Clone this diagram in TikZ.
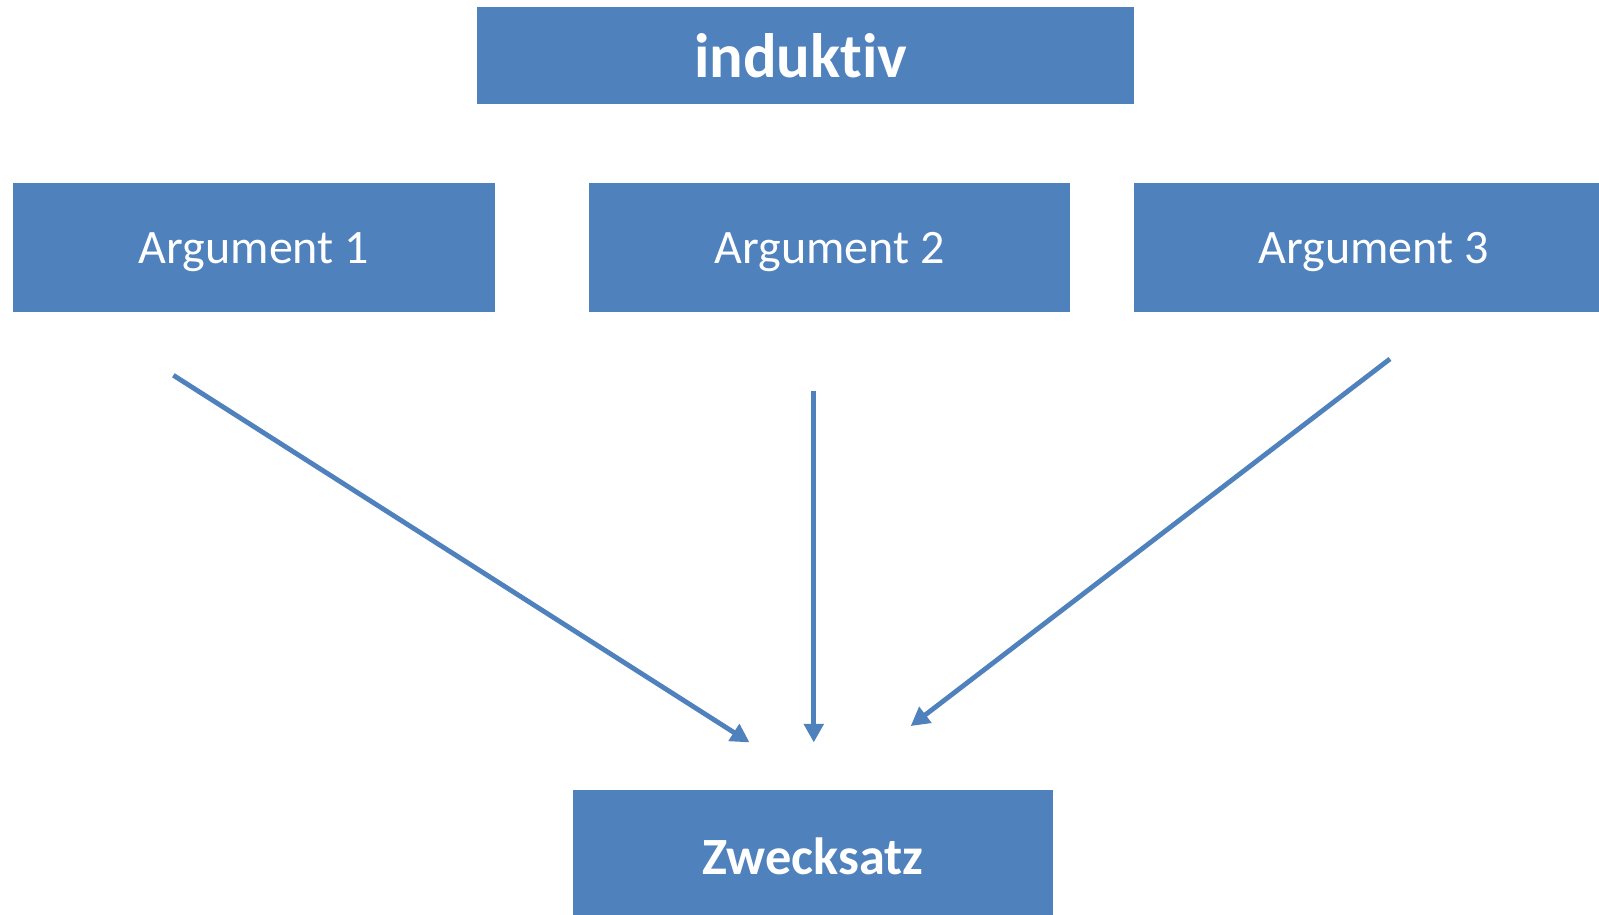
\documentclass[tikz,border=0pt]{standalone}
\usepackage{fontspec}
\setmainfont[Ligatures={NoCommon}]{Carlito}
\usetikzlibrary{arrows.meta}
\definecolor{offblue}{HTML}{4F81BD}
\newcommand{\lowtxt}[2]{\raisebox{-#1}[\height][\depth]{#2}}
\begin{document}
\begin{tikzpicture}[x=0.1mm,y=-0.1mm,
  box/.style={draw=none,fill=offblue,text=white,inner sep=0pt,anchor=center},
  conn/.style={draw=offblue,line width=1.35pt,-{Triangle[length=5.2pt,width=5.4pt]}}]
\useasboundingbox (0,0) rectangle (1568,897);
\node[box,minimum width=644*0.1mm,minimum height=95*0.1mm,font=\fontsize{17.5}{20}\selectfont\bfseries] (ind) at (790,54.5) {\hspace*{-1mm}induktiv};
\node[box,minimum width=472*0.1mm,minimum height=126*0.1mm,font=\fontsize{13.4}{16}\selectfont] (a1) at (249,242.5) {\lowtxt{0.5mm}{Argument 1}};
\node[box,minimum width=471*0.1mm,minimum height=126*0.1mm,font=\fontsize{13.4}{16}\selectfont] (a2) at (813.5,242.5) {\lowtxt{0.5mm}{Argument 2}};
\node[box,minimum width=470*0.1mm,minimum height=126*0.1mm,font=\fontsize{13.4}{16}\selectfont] (a3) at (1347,242.5) {\lowtxt{0.5mm}{Argument 3}};
\node[box,minimum width=471*0.1mm,minimum height=122*0.1mm,font=\fontsize{14.6}{17}\selectfont\bfseries] (z) at (797.5,836) {\lowtxt{0.4mm}{Zwecksatz}};
\coordinate (s1) at (170,368);
\coordinate (e1) at (735,728);
\coordinate (s2) at (798,383);
\coordinate (e2) at (798,728);
\coordinate (s3) at (1363,352);
\coordinate (e3) at (893,712);
\draw[conn] (s1) -- (e1);
\draw[conn] (s2) -- (e2);
\draw[conn] (s3) -- (e3);
\end{tikzpicture}
\end{document}
